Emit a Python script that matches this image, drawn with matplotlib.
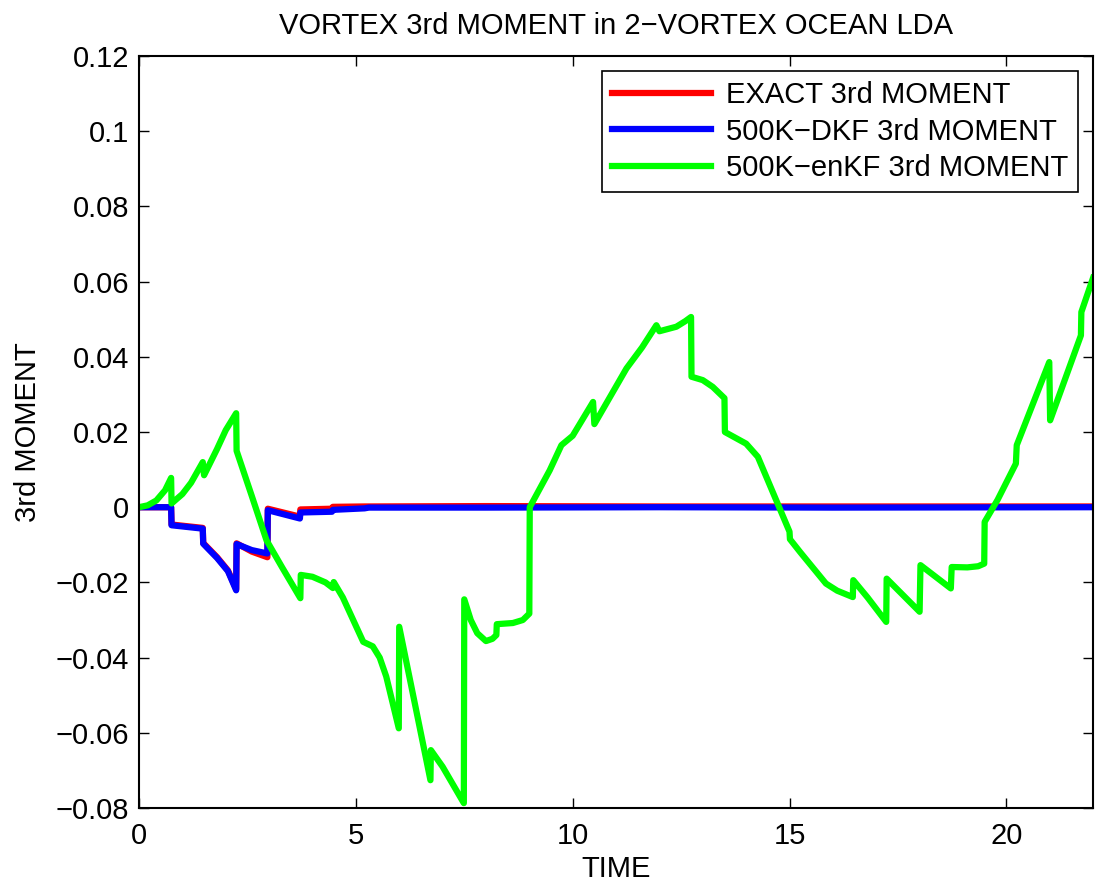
import numpy as np
import matplotlib.pyplot as plt
from matplotlib.ticker import FuncFormatter

plt.rcParams['font.family'] = ['Liberation Sans', 'DejaVu Sans']

# time / moment samples (repeated times are the update jumps)
t_exact = [0, 0.74, 0.75, 1.47, 1.48, 1.8, 2.05, 2.24, 2.25, 2.6, 2.96, 2.97,
           3.71, 3.72, 4.45, 4.47, 5.2, 5.3, 8.0, 12.0, 16.0, 22.0]
m_exact = [0, 0.0, -0.0046, -0.0055, -0.0095, -0.0133, -0.0168, -0.0218, -0.0096,
           -0.0118, -0.0133, -0.0004, -0.0025, -0.0006, -0.0004, 0.0001, 0.0002,
           0.0002, 0.0003, 0.0002, 0.0002, 0.0002]

t_dkf = [0, 0.74, 0.75, 1.47, 1.48, 1.8, 2.05, 2.24, 2.25, 2.6, 2.96, 2.97,
         3.71, 3.72, 4.45, 4.47, 5.2, 5.3, 8.0, 12.0, 16.0, 22.0]
m_dkf = [0, 0.0, -0.0048, -0.0057, -0.0097, -0.0135, -0.0170, -0.0221, -0.0098,
         -0.0114, -0.0123, -0.0008, -0.0030, -0.0014, -0.0012, -0.0007, -0.0003,
         -0.0001, -0.0001, 0.0, -0.0001, 0.0]

t_enkf = [0, 0.2, 0.4, 0.6, 0.74, 0.75, 1.0, 1.2, 1.47, 1.5, 1.8, 2.0, 2.24, 2.25,
          2.6, 2.94, 3.3, 3.72, 3.73, 4.0, 4.3, 4.47, 4.49, 4.7, 5.17, 5.39, 5.55,
          5.7, 5.99, 6.0, 6.72, 6.73, 7.0, 7.49, 7.5, 7.65, 7.8, 8.0, 8.15, 8.24,
          8.25, 8.62, 8.85, 9.0, 9.01, 9.47, 9.74, 10.0, 10.47, 10.5, 11.24, 11.6,
          11.93, 12.0, 12.39, 12.6, 12.73, 12.74, 13.0, 13.23, 13.5, 13.51, 14.0,
          14.27, 15.0, 15.01, 15.25, 15.84, 16.1, 16.46, 16.47, 16.8, 17.23, 17.24,
          18.0, 18.02, 18.72, 18.74, 19.1, 19.35, 19.49, 19.5, 19.8, 20.22, 20.24,
          20.99, 21.01, 21.72, 21.73, 22.0]
m_enkf = [0, 0.0005, 0.0018, 0.0045, 0.0078, 0.001, 0.0035, 0.0065, 0.012, 0.0085,
          0.0155, 0.0205, 0.025, 0.015, 0.003, -0.0088, -0.016, -0.0242, -0.018,
          -0.0185, -0.020, -0.0215, -0.0199, -0.024, -0.0358, -0.0370, -0.040,
          -0.045, -0.0588, -0.0318, -0.0726, -0.0646, -0.069, -0.0787, -0.0245,
          -0.030, -0.0335, -0.0356, -0.035, -0.0340, -0.0311, -0.0308, -0.030,
          -0.0283, 0.0, 0.0098, 0.0165, 0.019, 0.028, 0.0221, 0.0369, 0.0425,
          0.0484, 0.0468, 0.048, 0.0495, 0.0506, 0.0347, 0.0338, 0.032, 0.029,
          0.020, 0.0169, 0.0134, -0.0065, -0.0085, -0.0120, -0.0203, -0.0222,
          -0.0239, -0.0194, -0.024, -0.0305, -0.019, -0.0278, -0.0154, -0.0216,
          -0.0159, -0.016, -0.0157, -0.015, -0.0039, 0.002, 0.0116, 0.0165,
          0.0386, 0.0231, 0.0457, 0.0519, 0.061]

fig = plt.figure(figsize=(10.99, 8.86), dpi=100)
ax = fig.add_axes([0.1265, 0.0880, 0.8681, 0.8488])

lw = 4.5
ax.plot(t_exact, m_exact, color='#ff0000', linewidth=lw, label='EXACT 3rd MOMENT')
ax.plot(t_dkf, m_dkf, color='#0000ff', linewidth=lw, label='500K\u2212DKF 3rd MOMENT')
ax.plot(t_enkf, m_enkf, color='#00ff00', linewidth=lw, label='500K\u2212enKF 3rd MOMENT')

ax.set_xlim(0, 22)
ax.set_ylim(-0.08, 0.12)
ax.set_xticks([0, 5, 10, 15, 20])
ax.set_yticks(np.arange(-0.08, 0.121, 0.02))
ax.yaxis.set_major_formatter(FuncFormatter(lambda v, p: ('%g' % round(v, 4)).replace('-', '\u2212')))

fs = 21
ax.tick_params(direction='in', top=True, right=True, length=7, width=1,
               labelsize=fs)
ax.tick_params(axis='x', pad=10)
ax.tick_params(axis='y', pad=7)
for s in ax.spines.values():
    s.set_linewidth(1.5)

ax.set_title('VORTEX 3rd MOMENT in 2\u2212VORTEX OCEAN LDA', fontsize=fs, pad=16)
ax.set_xlabel('TIME', fontsize=fs, labelpad=4)
ax.set_ylabel('3rd MOMENT', fontsize=fs, labelpad=10)

leg = ax.legend(loc='upper right', fontsize=fs, handlelength=3.4, fancybox=False,
                framealpha=1, edgecolor='black', borderaxespad=0.5,
                labelspacing=0.3, handletextpad=0.5, borderpad=0.35)
leg.get_frame().set_linewidth(1.2)

plt.savefig('out.png', dpi=100)
